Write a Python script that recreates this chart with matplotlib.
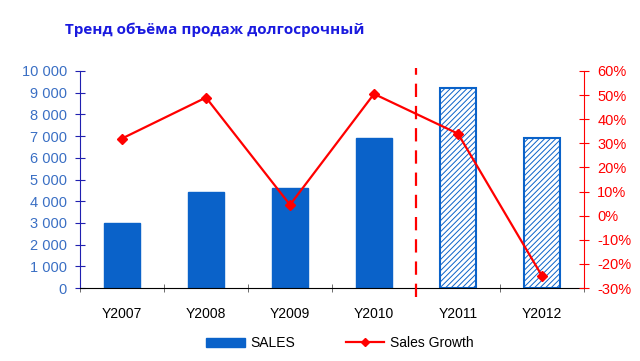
import matplotlib
matplotlib.use("Agg")
import matplotlib.pyplot as plt
from matplotlib.ticker import FuncFormatter
from matplotlib.lines import Line2D
from matplotlib.patches import Patch

years = ["Y2007", "Y2008", "Y2009", "Y2010", "Y2011", "Y2012"]
sales = [3000, 4420, 4600, 6900, 9200, 6900]
growth = [32, 49, 4.5, 50.5, 34, -25]
forecast = [False, False, False, False, True, True]

blue = "#0a62c9"
red = "#ff0000"

plt.rcParams["font.family"] = ["Liberation Sans", "DejaVu Sans"]
plt.rcParams["hatch.linewidth"] = 0.7
plt.rcParams["hatch.color"] = "#3a7fd0"

fig = plt.figure(figsize=(6.4, 3.61), dpi=100)
ax = fig.add_axes([80 / 640, 1 - 288 / 361, 504 / 640, 217 / 361])
ax2 = ax.twinx()

x = list(range(len(years)))
for i in x:
    if forecast[i]:
        ax.bar(i, sales[i], width=0.43, color="white", edgecolor=blue,
               hatch="//////", linewidth=1.5)
    else:
        ax.bar(i, sales[i], width=0.43, color=blue, edgecolor=blue)

ax.set_xlim(-0.5, 5.5)
ax.set_ylim(0, 10000)
ax.set_yticks(range(0, 10001, 1000))
ax.yaxis.set_major_formatter(FuncFormatter(lambda v, p: f"{int(v):,}".replace(",", " ")))
ax.set_xticks(x)
ax.set_xticklabels(years)
ax.set_xticks([i + 0.5 for i in range(-1, 6)], minor=True)
ax.tick_params(axis="x", which="major", length=0, pad=14, labelsize=10)
ax.tick_params(axis="x", which="minor", length=6, direction="inout", color="#555555")
ax.tick_params(axis="y", direction="inout", length=7, colors="#3a6fc4",
               labelsize=10.5, pad=6)
ax.tick_params(axis="y", color="#2020b0")
ax.spines["left"].set_color("#2020b0")
ax.spines["top"].set_visible(False)
ax.spines["right"].set_visible(False)
ax2.spines["top"].set_visible(False)
ax2.spines["left"].set_visible(False)
ax2.spines["bottom"].set_visible(False)
ax2.spines["right"].set_color(red)

ax2.plot(x, growth, color=red, lw=1.6, marker="D", markersize=5)
ax2.set_ylim(-30, 60)
ax2.set_yticks(range(-30, 61, 10))
ax2.yaxis.set_major_formatter(FuncFormatter(lambda v, p: f"{int(v)}%"))
ax2.tick_params(axis="y", direction="inout", length=7, color=red,
                labelcolor=red, labelsize=10.5, pad=6)

ax2.axvline(3.5, ymin=-0.04, ymax=1.015, color=red, lw=1.6,
            ls=(0, (6, 4)), clip_on=False)

fig.text(65 / 640, 1 - 30 / 361, "Тренд объёма продаж долгосрочный",
         color="#1a1adf", fontsize=11, fontweight="bold",
         family=["Open Sans", "DejaVu Sans"], va="center")

handles = [Patch(color=blue, label="SALES"),
           Line2D([], [], color=red, lw=1.6, marker="D", markersize=4,
                  label="Sales Growth")]
fig.legend(handles=handles, loc="center", bbox_to_anchor=(340 / 640, 1 - 343 / 361),
           ncol=2, frameon=False, fontsize=10, handlelength=2.8,
           handleheight=0.6, handletextpad=0.4, columnspacing=3.6)

fig.savefig("out.png", dpi=100)
